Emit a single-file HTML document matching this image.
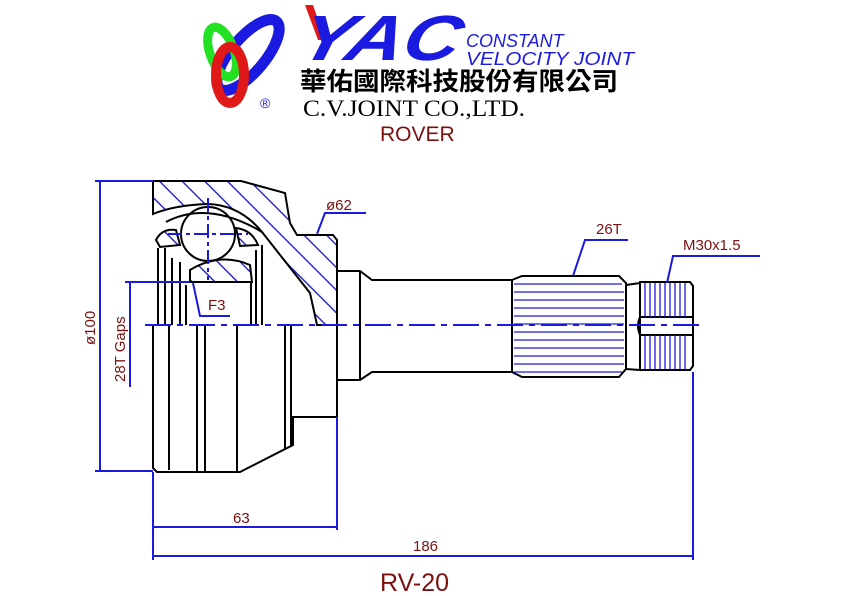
<!DOCTYPE html>
<html><head><meta charset="utf-8"><style>
html,body{margin:0;padding:0;background:#fff;}
svg{display:block}
</style></head><body>
<svg width="842" height="596" viewBox="0 0 842 596" xmlns="http://www.w3.org/2000/svg">
<defs>
<pattern id="h" patternUnits="userSpaceOnUse" width="16" height="16" patternTransform="rotate(-45)">
<line x1="0" y1="0" x2="0" y2="16" stroke="#1010d0" stroke-width="2.6"/>
</pattern>
</defs>
<!-- logo -->
<ellipse cx="248" cy="55" rx="17" ry="44" transform="rotate(40 248 55)" fill="none" stroke="#1a1ae0" stroke-width="11"/>
<ellipse cx="222" cy="52" rx="12" ry="26" transform="rotate(-20 222 52)" fill="none" stroke="#22e022" stroke-width="9"/>
<ellipse cx="230" cy="75" rx="14" ry="28" fill="none" stroke="#e01818" stroke-width="10"/>
<text x="260" y="108" font-family="Liberation Sans,sans-serif" font-size="14" fill="#1a1ae0">®</text>
<polygon points="305,5 313,5 325,40 318,40" fill="#e01818"/>
<text x="298" y="60" font-family="Liberation Sans,sans-serif" font-weight="bold" font-style="italic" font-size="64" fill="#1a1ae0" transform="skewX(-15) translate(14,0)" textLength="160" lengthAdjust="spacingAndGlyphs">YAC</text>
<text x="466" y="47" font-family="Liberation Sans,sans-serif" font-style="italic" font-size="18" fill="#1a1ae0">CONSTANT</text>
<text x="466" y="65" font-family="Liberation Sans,sans-serif" font-style="italic" font-size="18" fill="#1a1ae0" textLength="168" lengthAdjust="spacingAndGlyphs">VELOCITY  JOINT</text>
<text x="300" y="90" font-family="Liberation Sans,'Noto Sans CJK TC',sans-serif" font-weight="bold" font-size="25" fill="#000" textLength="318" lengthAdjust="spacingAndGlyphs">華佑國際科技股份有限公司</text>
<text x="303" y="116" font-family="Liberation Serif,serif" font-size="23" fill="#000" textLength="222" lengthAdjust="spacingAndGlyphs">C.V.JOINT CO.,LTD.</text>
<text x="380" y="141" font-family="Liberation Sans,sans-serif" font-size="21" fill="#7a1010">ROVER</text>

<!-- hatched regions -->
<g stroke="#000" stroke-width="2" fill="url(#h)">
<path d="M153,181 L241,181 L285,193 L290,223 L297,235 L333,235 L337,240 L337,325 L317,325 L310,293 L262,232 Q240,205 208,204 Q175,205 153,214 Z"/>
<path d="M190,282 L190,270 Q220,252 250,265 L252,282 Z"/>
<path d="M156,240 Q162,228 176,230 L180,245 L160,247 Z"/>
<path d="M236,228 Q252,230 258,245 L240,246 Z"/>
</g>
<circle cx="208" cy="234" r="27" fill="#fff" stroke="#000" stroke-width="2"/>
<g fill="none" stroke="#000" stroke-width="2">
<path d="M158,248 L158,325 M165,248 L165,325 M172,258 L172,325 M180,262 L180,325 M186,285 L186,325 M251,282 L251,325 M256,250 L256,325 M262,245 L262,325"/>
<path d="M166,222 Q208,200 262,232"/>
<path d="M153,325 L153,468 L157,472 L240,472 L293,445 L293,417 L337,417 L337,325"/>
<path d="M169,325 L169,470 M197,325 L197,472 M205,325 L205,472 M237,325 L237,472 M285,325 L285,450 M291,325 L291,446"/>
<path d="M337,271 L360,271 L372,280 L512,280 M337,380 L360,380 L372,372 L512,372"/>
<path d="M360,271 L360,380"/>
<path d="M512,280 L522,276 L619,276 L626,283 L626,369 L619,377 L522,377 L512,372 Z"/>
<path d="M626,285 L640,283 L640,370 L626,369"/>
<path d="M640,282 L690,282 L693,286 L693,366 L690,370 L640,370 Z"/>
<path d="M640,317 L693,317 M640,335 L693,335 M640,317 Q636,326 640,335"/>
</g>
<g stroke="#1a1ae0" stroke-width="1.3">
<path d="M514,284H622M514,292H624M514,300H624M514,308H624M514,316H624M514,324H624M514,332H624M514,340H624M514,348H624M514,356H624M514,364H624M514,372H622"/>
<path d="M645,283V317M650,283V317M655,283V317M660,283V317M665,283V317M670,283V317M675,283V317M680,283V317M685,283V317M645,335V369M650,335V369M655,335V369M660,335V369M665,335V369M670,335V369M675,335V369M680,335V369M685,335V369"/>
</g>
<g stroke="#1a1ae0" stroke-width="2" fill="none">
<path d="M145,325 H705" stroke-dasharray="26,6,6,6"/>
<path d="M208,198 V280 M168,234 H248" stroke-dasharray="14,4,4,4"/>
<path d="M100,181 V471 M95,181 H153 M95,471 H153"/>
<path d="M130,282 V387 M125,282 H190"/>
<path d="M153,472 V560 M337,417 V530 M693,372 V560"/>
<path d="M153,527 H337 M153,556 H693"/>
<path d="M317,234 L325,213 H366"/>
<path d="M573,276 L585,240 H628"/>
<path d="M667,283 L673,256 H760"/>
<path d="M193,283 L200,316 H230"/>
</g>
<g font-family="Liberation Sans,sans-serif" font-size="15" fill="#7a1010">
<text x="326" y="210">ø62</text>
<text x="596" y="234">26T</text>
<text x="683" y="250">M30x1.5</text>
<text x="208" y="310">F3</text>
<text x="233" y="523">63</text>
<text x="413" y="551">186</text>
<text transform="translate(95,345) rotate(-90)">ø100</text>
<text transform="translate(125,382) rotate(-90)">28T Gaps</text>
</g>
<text x="380" y="591" font-family="Liberation Sans,sans-serif" font-size="25" fill="#7a1010">RV-20</text>
</svg>
</body></html>
